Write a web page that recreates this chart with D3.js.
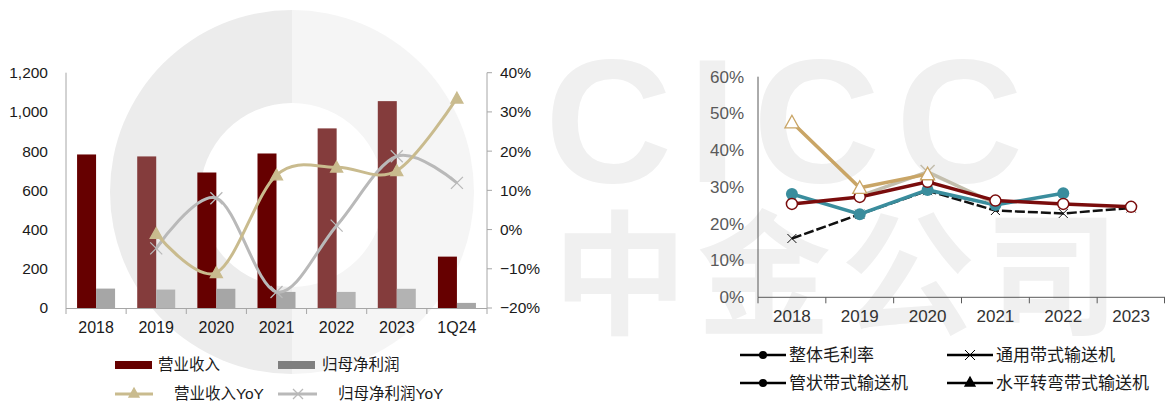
<!DOCTYPE html>
<html>
<head>
<meta charset="utf-8">
<script src="https://cdn.jsdelivr.net/npm/d3@7"></script>
<style>
  body { margin: 0; background: #fff; }
  svg { display: block; font-family: "Liberation Sans", "Noto Sans CJK SC", sans-serif; }
</style>
</head>
<body>
<script>
// left chart data
const periods = ["2018", "2019", "2020", "2021", "2022", "2023", "1Q24"];
const revenue = [783, 773, 691, 788, 916, 1055, 262];
const netProfit = [99, 94, 98, 82, 82, 98, 26];
const revenueYoY = [null, -0.01, -0.11, 0.139, 0.159, 0.15, 0.335];
const profitYoY = [null, -0.048, 0.08, -0.159, 0.01, 0.187, 0.119];
const leftTicks = [0, 200, 400, 600, 800, 1000, 1200];
const rightTicks = [-0.2, -0.1, 0, 0.1, 0.2, 0.3, 0.4];

// right chart data (gross margin)
const years = ["2018", "2019", "2020", "2021", "2022", "2023"];
const grossAll = [0.254, 0.273, 0.314, 0.263, 0.254, 0.246];
const generalBelt = [0.16, 0.226, 0.29, 0.236, 0.228, 0.243];
const generalBeltGray = [null, 0.275, 0.341, 0.255, null, null];
const pipeBelt = [0.281, 0.226, 0.292, 0.251, 0.283, null];
const turningBelt = [0.476, 0.298, 0.335, null, null, null];
const marginTicks = [0, 0.1, 0.2, 0.3, 0.4, 0.5, 0.6];

const W = 1165, H = 407;
const svg = d3.select("body").append("svg").attr("width", W).attr("height", H);

// watermark (background)
const wm = svg.append("g").attr("pointer-events", "none");
wm.append("path")
    .attr("d", d3.arc()({innerRadius: 0, outerRadius: 182, startAngle: Math.PI, endAngle: 2 * Math.PI}))
    .attr("transform", "translate(292,192)").attr("fill", "#ececec");
wm.append("path")
    .attr("d", d3.arc()({innerRadius: 0, outerRadius: 182, startAngle: 0, endAngle: Math.PI}))
    .attr("transform", "translate(292,192)").attr("fill", "#f5f5f5");
wm.append("circle").attr("cx", 292).attr("cy", 195).attr("r", 92).attr("fill", "#fff");
wm.append("text").attr("x", 545).attr("y", 182)
    .attr("font-size", 176).attr("font-weight", "bold").attr("letter-spacing", 16)
    .attr("fill", "#f0f0f0").text("CICC");
wm.append("text").attr("x", 553).attr("y", 324)
    .attr("font-family", "Noto Sans CJK SC").attr("font-size", 134).attr("font-weight", "bold")
    .attr("letter-spacing", 10).attr("fill", "#f0f0f0").text("中金公司");

// ---------- left chart ----------
const xL = d3.scaleBand().domain(periods).range([66, 487]);
const yL = d3.scaleLinear().domain([0, 1200]).range([308, 72.7]);
const yR = d3.scaleLinear().domain([-0.2, 0.4]).range([308, 72.7]);
const barW = 19;
const lighter = new Set(["2019", "2022", "2023"]);

const left = svg.append("g");

left.append("g").selectAll("rect").data(periods).join("rect")
    .attr("x", d => xL(d) + xL.bandwidth() / 2 - barW)
    .attr("y", (d, i) => yL(revenue[i]))
    .attr("width", barW)
    .attr("height", (d, i) => yL(0) - yL(revenue[i]))
    .attr("fill", d => lighter.has(d) ? "#843c3c" : "#660000");

left.append("g").selectAll("rect").data(periods).join("rect")
    .attr("x", d => xL(d) + xL.bandwidth() / 2)
    .attr("y", (d, i) => yL(netProfit[i]))
    .attr("width", barW)
    .attr("height", (d, i) => yL(0) - yL(netProfit[i]))
    .attr("fill", d => lighter.has(d) ? "#b3b3b3" : "#a6a6a6");

// axes
const axisCol = "#a6a6a6";
left.append("line").attr("x1", 66).attr("x2", 66).attr("y1", yL(1200)).attr("y2", yL(0)).attr("stroke", axisCol);
left.append("line").attr("x1", 487).attr("x2", 487).attr("y1", yR(0.4)).attr("y2", yR(-0.2)).attr("stroke", axisCol);
left.append("line").attr("x1", 66).attr("x2", 487).attr("y1", yL(0) + 0.5).attr("y2", yL(0) + 0.5).attr("stroke", axisCol);
left.append("g").selectAll("line").data(periods.map(d => xL(d)).concat([xL.range()[1]])).join("line")
    .attr("x1", d => d).attr("x2", d => d).attr("y1", yL(0)).attr("y2", yL(0) + 6).attr("stroke", axisCol);
left.append("g").selectAll("line").data(rightTicks).join("line")
    .attr("x1", 487).attr("x2", 492).attr("y1", d => yR(d)).attr("y2", d => yR(d)).attr("stroke", axisCol);

const gl = left.append("g").attr("transform", "translate(48,0)")
    .call(d3.axisLeft(yL).tickValues(leftTicks).tickSize(0).tickPadding(0).tickFormat(d3.format(",")));
const gr = left.append("g").attr("transform", "translate(500,0)")
    .call(d3.axisRight(yR).tickValues(rightTicks).tickSize(0).tickPadding(0).tickFormat(d3.format(".0%")));
const gb = left.append("g").attr("transform", "translate(0,321)")
    .call(d3.axisBottom(xL).tickSize(0).tickPadding(0));
[gl, gr, gb].forEach(g => {
  g.select(".domain").remove();
  g.selectAll("text").attr("font-family", "Liberation Sans").attr("font-size", 15.5).attr("fill", "#1a1a1a");
});
gb.selectAll("text").attr("font-size", 16).attr("dy", "0.75em");

// yoy lines
const lineL = vals => d3.line()
    .x(d => xL(d[0]) + xL.bandwidth() / 2)
    .y(d => yR(d[1]))
    .curve(d3.curveCardinal.tension(0))(periods.map((p, i) => [p, vals[i]]).filter(d => d[1] != null));

const tanL = "#c9bb8e", grayL = "#b9b9b9";
left.append("path").attr("d", lineL(profitYoY)).attr("fill", "none").attr("stroke", grayL).attr("stroke-width", 3);
left.append("path").attr("d", lineL(revenueYoY)).attr("fill", "none").attr("stroke", tanL).attr("stroke-width", 3);

const xMark = (g, cx, cy, s, col, w) => {
  g.append("path").attr("d", `M${cx - s},${cy - s}L${cx + s},${cy + s}M${cx - s},${cy + s}L${cx + s},${cy - s}`)
    .attr("stroke", col).attr("stroke-width", w).attr("fill", "none");
};
const triMark = (g, cx, cy, s, fill, stroke) => {
  g.append("path").attr("d", `M${cx},${cy - s}L${cx + s},${cy + s * 0.8}L${cx - s},${cy + s * 0.8}Z`)
    .attr("fill", fill).attr("stroke", stroke).attr("stroke-width", 1.3);
};
periods.forEach((p, i) => {
  if (profitYoY[i] != null) xMark(left, xL(p) + xL.bandwidth() / 2, yR(profitYoY[i]), 6, grayL, 1.3);
  if (revenueYoY[i] != null) triMark(left, xL(p) + xL.bandwidth() / 2, yR(revenueYoY[i]), 6, tanL, tanL);
});

// left legend
const lg = svg.append("g").attr("font-size", 15.5).attr("fill", "#1a1a1a");
lg.append("rect").attr("x", 115).attr("y", 361).attr("width", 37).attr("height", 8).attr("fill", "#660000");
lg.append("text").attr("x", 158).attr("y", 365).attr("dy", "0.35em").text("营业收入");
lg.append("rect").attr("x", 278).attr("y", 361).attr("width", 37).attr("height", 8).attr("fill", "#7f7f7f");
lg.append("text").attr("x", 322).attr("y", 365).attr("dy", "0.35em").text("归母净利润");
lg.append("line").attr("x1", 115).attr("x2", 153).attr("y1", 394).attr("y2", 394).attr("stroke", tanL).attr("stroke-width", 3);
triMark(lg, 134, 393, 5, tanL, tanL);
lg.append("text").attr("x", 174).attr("y", 394).attr("dy", "0.35em").text("营业收入YoY");
lg.append("line").attr("x1", 278).attr("x2", 317).attr("y1", 394).attr("y2", 394).attr("stroke", grayL).attr("stroke-width", 3);
xMark(lg, 298, 394, 5, grayL, 1.3);
lg.append("text").attr("x", 338).attr("y", 394).attr("dy", "0.35em").text("归母净利润YoY");

// ---------- right chart ----------
const xG = d3.scaleBand().domain(years).range([758, 1165]);
const yG = d3.scaleLinear().domain([0, 0.6]).range([297.3, 76.7]);
const right = svg.append("g");
const rAxis = "#595959";

right.append("line").attr("x1", 758).attr("x2", 758).attr("y1", yG(0.6)).attr("y2", yG(0)).attr("stroke", rAxis);
right.append("line").attr("x1", 758).attr("x2", 1165).attr("y1", yG(0)).attr("y2", yG(0)).attr("stroke", rAxis);
right.append("g").selectAll("line").data(years.map(d => xG(d)).concat([xG.range()[1] - 0.5])).join("line")
    .attr("x1", d => d).attr("x2", d => d).attr("y1", yG(0)).attr("y2", yG(0) + 6).attr("stroke", rAxis);

const gy = right.append("g").attr("transform", "translate(744,0)")
    .call(d3.axisLeft(yG).tickValues(marginTicks).tickSize(0).tickPadding(0).tickFormat(d3.format(".0%")));
const gx = right.append("g").attr("transform", "translate(0,309)")
    .call(d3.axisBottom(xG).tickSize(0).tickPadding(0));
[gy, gx].forEach(g => {
  g.select(".domain").remove();
  g.selectAll("text").attr("font-family", "Liberation Sans").attr("font-size", 17).attr("fill", "#595959");
});
gx.selectAll("text").attr("fill", "#333").attr("dy", "0.75em");

const lineG = d3.line()
    .defined(d => d[1] != null)
    .x(d => xG(d[0]) + xG.bandwidth() / 2)
    .y(d => yG(d[1]));
const pts = vals => years.map((y, i) => [y, vals[i]]);

const cBlack = "#111", cBeige = "#c3bead", cTan = "#c9a566", cTeal = "#3a8d9d", cRed = "#7a0c0c";

right.append("path").attr("d", lineG(pts(generalBelt))).attr("fill", "none")
    .attr("stroke", cBlack).attr("stroke-width", 2.5).attr("stroke-dasharray", "10,3");
years.forEach((y, i) => {
  if (generalBelt[i] != null) xMark(right, xG(y) + xG.bandwidth() / 2, yG(generalBelt[i]), 4.5, cBlack, 1);
});
right.append("circle").attr("cx", xG("2019") + xG.bandwidth() / 2).attr("cy", yG(generalBelt[1])).attr("r", 5).attr("fill", cBlack);

right.append("path").attr("d", lineG(pts(pipeBelt))).attr("fill", "none").attr("stroke", cTeal).attr("stroke-width", 3.5);
right.append("path").attr("d", lineG(pts(generalBeltGray))).attr("fill", "none").attr("stroke", cBeige).attr("stroke-width", 3.5);
right.append("path").attr("d", lineG(pts(turningBelt))).attr("fill", "none").attr("stroke", cTan).attr("stroke-width", 3.5);
right.append("path").attr("d", lineG(pts(grossAll))).attr("fill", "none").attr("stroke", cRed).attr("stroke-width", 3.5);

years.forEach((y, i) => {
  const cx = xG(y) + xG.bandwidth() / 2;
  if (pipeBelt[i] != null) right.append("circle").attr("cx", cx).attr("cy", yG(pipeBelt[i])).attr("r", 6).attr("fill", cTeal);
  if (generalBeltGray[i] != null && i === 2) xMark(right, cx, yG(generalBeltGray[i]), 7, cBeige, 1.5);
  if (grossAll[i] != null) right.append("circle").attr("cx", cx).attr("cy", yG(grossAll[i])).attr("r", 5.5)
      .attr("fill", "#fff").attr("stroke", cRed).attr("stroke-width", 1.5);
  if (turningBelt[i] != null) triMark(right, cx, yG(turningBelt[i]), 7, "#fff", cTan);
});

// right legend
const rl = svg.append("g").attr("font-size", 17).attr("fill", "#1a1a1a");
const legItems = [
  {name: "整体毛利率", x: 740, y: 355, mark: "dot"},
  {name: "通用带式输送机", x: 947, y: 355, mark: "x"},
  {name: "管状带式输送机", x: 740, y: 383, mark: "dot"},
  {name: "水平转弯带式输送机", x: 947, y: 383, mark: "tri"}
];
legItems.forEach(d => {
  rl.append("line").attr("x1", d.x).attr("x2", d.x + 46).attr("y1", d.y).attr("y2", d.y).attr("stroke", "#000").attr("stroke-width", 2.5);
  if (d.mark === "dot") rl.append("circle").attr("cx", d.x + 23).attr("cy", d.y).attr("r", 4).attr("fill", "#000");
  if (d.mark === "x") xMark(rl, d.x + 23, d.y, 5, "#000", 1);
  if (d.mark === "tri") triMark(rl, d.x + 23, d.y - 1, 5, "#000", "#000");
  rl.append("text").attr("x", d.x + 49).attr("y", d.y).attr("dy", "0.35em").text(d.name);
});
</script>
</body>
</html>
